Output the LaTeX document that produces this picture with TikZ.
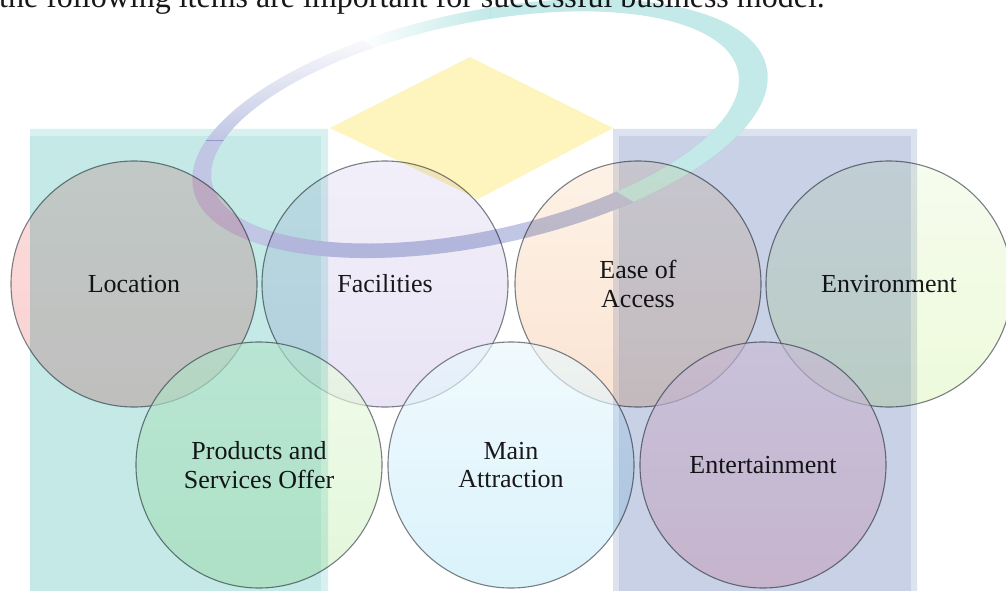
\documentclass[tikz,border=0pt]{standalone}
\usepackage{fontspec}
\setmainfont{Liberation Serif}
% circle fills (top / bottom of each gradient)
\definecolor{locT}{RGB}{251,202,202}\definecolor{locB}{RGB}{247,186,186}
\definecolor{facT}{RGB}{235,231,247}\definecolor{facB}{RGB}{222,214,240}
\definecolor{easT}{RGB}{252,236,218}\definecolor{easB}{RGB}{250,214,188}
\definecolor{envT}{RGB}{243,251,230}\definecolor{envB}{RGB}{228,248,200}
\definecolor{proT}{RGB}{234,250,224}\definecolor{proB}{RGB}{212,243,200}
\definecolor{maiT}{RGB}{234,248,253}\definecolor{maiB}{RGB}{198,237,250}
\definecolor{entT}{RGB}{255,228,238}\definecolor{entB}{RGB}{252,202,214}
\definecolor{rimC}{RGB}{100,105,112}
\definecolor{inkC}{RGB}{24,24,26}
% background artwork colours
\definecolor{tealC}{RGB}{196,233,231}\definecolor{tealL}{RGB}{216,241,240}
\definecolor{navyC}{RGB}{200,209,229}\definecolor{navyL}{RGB}{221,226,239}
\definecolor{sunC}{RGB}{253,244,190}
\definecolor{ringT}{RGB}{195,233,232}
\definecolor{ringL}{RGB}{192,198,227}
% the two ellipses bounding the swoosh
\newcommand\swooshouter{\pgfpathellipse{\pgfpointxy{480.04}{128.42}}{\pgfpoint{286.6pt}{60.9pt}}{\pgfpoint{-24.3pt}{114.4pt}}}
\newcommand\swooshinner{\pgfpathellipse{\pgfpointxy{475.03}{127.43}}{\pgfpoint{263.1pt}{55.9pt}}{\pgfpoint{-21.6pt}{101.7pt}}}
\begin{document}
\begin{tikzpicture}[x=1pt,y=-1pt,
  venn/.style={circle, minimum size=246pt, inner sep=0pt,
    draw=rimC, draw opacity=0.85, line width=1.1pt,
    fill opacity=0.65, text opacity=1, align=center, text=inkC,
    font=\fontsize{26}{28.3}\selectfont},
  wash/.style={blend mode=multiply},
]
\useasboundingbox (0,0) rectangle (1006,591);
\clip (0,0) rectangle (1006,591);
\fill[white] (0,0) rectangle (1006,591);

% lead-in sentence, cut by the top edge
\node[anchor=base west, inner sep=0pt, text=inkC,
      font=\fontsize{32}{36}\selectfont] (intro) at (-1,7.5)
  {the following items are important for successful business model.};

% upper row
\node[venn, top color=locT, bottom color=locB] (loc) at (134,284) {Location};
\node[venn, top color=facT, bottom color=facB] (fac) at (385,284) {Facilities};
\node[venn, top color=easT, bottom color=easB] (eas) at (638,284) {Ease of\\Access};
\node[venn, top color=envT, bottom color=envB] (env) at (889,284) {Environment};
% lower row
\node[venn, top color=proT, bottom color=proB] (pro) at (259,465) {Products and\\Services Offer};
\node[venn, top color=maiT, bottom color=maiB] (mai) at (511,465) {Main\\Attraction};
\node[venn, top color=entT, bottom color=entB] (ent) at (763,465) {Entertainment};

% background artwork, multiplied over the circles
% columns and diamond, kept out of the swoosh band
\begin{scope}
  \pgfpathrectanglecorners{\pgfpointxy{-20}{-20}}{\pgfpointxy{1030}{620}}
  \swooshouter
  \swooshinner
  \pgfseteorule
  \pgfusepath{clip}
  % teal column with its pale rim
  \fill[wash, tealL, even odd rule] (30,129) rectangle (328,591) (30,136) rectangle (321,591);
  \fill[wash, tealC] (30,136) rectangle (321,591);
  % blue column with its pale rim
  \fill[wash, navyL, even odd rule] (613,129) rectangle (917,591) (619,136) rectangle (911,591);
  \fill[wash, navyC] (619,136) rectangle (911,591);
  % yellow diamond
  \fill[wash, sunC] (470,57) -- (613,128) -- (478,199) -- (330,128) -- cycle;
\end{scope}
% tilted swoosh: band between two ellipses
\begin{scope}
  \swooshouter
  \swooshinner
  \pgfseteorule
  \pgfusepath{clip}
  \begin{scope}
    \clip (-150,-265) -- (1150,510) -- (1150,-300) -- (-150,-300) -- cycle;
    \shade[wash, left color=white, right color=ringT] (360,-20) rectangle (490,300);
    \fill[wash, ringT] (490,-20) rectangle (1100,300);
  \end{scope}
  \begin{scope}
    \clip (-150,-265) -- (1150,510) -- (1150,600) -- (-150,600) -- cycle;
    \shade[wash, top color=white, bottom color=ringL] (0,30) rectangle (800,140);
    \fill[wash, ringL] (0,140) rectangle (800,300);
  \end{scope}
\end{scope}
\end{tikzpicture}
\end{document}
